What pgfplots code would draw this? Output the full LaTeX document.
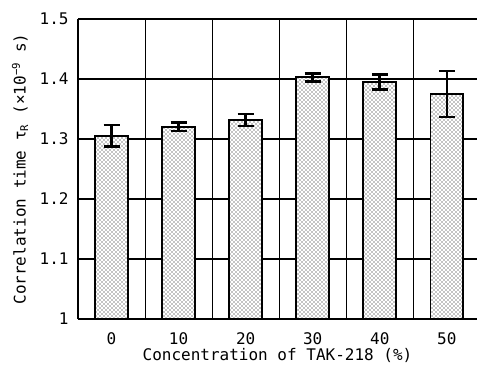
\documentclass[border=0pt]{standalone}
\usepackage{fontspec}
\setmainfont{DejaVu Sans Mono}
\usepackage{pgfplots}
\pgfplotsset{compat=1.18}
\usetikzlibrary{patterns}
\begin{document}
\begin{tikzpicture}
\useasboundingbox (-58.5pt,-36.75pt) rectangle (299.25pt,239.25pt);
\begin{axis}[
  at={(0pt,0pt)}, anchor=south west,
  scale only axis, width=299.25pt, height=225pt,
  xmin=-0.5, xmax=5.45, ymin=1, ymax=1.5,
  axis lines*=left,
  axis line style={line width=1.1pt},
  font=\fontsize{12}{14}\selectfont,
  /pgf/number format/assume math mode=true,
  ytick={1,1.1,1.2,1.3,1.4,1.5},
  yticklabels={1,1.1,1.2,1.3,1.4,1.5},
  yticklabel style={xshift=-3.5pt},
  ymajorgrids, grid style={black, line width=0.8pt},
  major y tick style={draw=none},
  xtick={0,1,2,3,4,5},
  xticklabels={0,10,20,30,40,50},
  major x tick style={draw=none},
  extra x ticks={0.5,1.5,2.5,3.5,4.5},
  extra x tick labels={},
  extra x tick style={xmajorgrids=true, major tick length=0pt},
  xticklabel style={yshift=-7pt},
  ylabel={Correlation time τ\textsubscript{R} (×10\textsuperscript{−9} s)},
  xlabel={Concentration of TAK-218 (\%)},
  ylabel style={at={(axis description cs:-0.1454,0.5)}, anchor=center},
  xlabel style={at={(axis description cs:0.5,-0.122)}, anchor=center},
  clip=false,
]
\addplot[ybar, bar width=0.49, draw=black, line width=1.3pt,
  fill=white, postaction={pattern=crosshatch dots, pattern color=black},
  error bars/.cd, y dir=both, y explicit,
  error bar style={line width=2pt, black},
  error mark options={line width=2pt, mark size=6pt, rotate=90}]
coordinates {
(0,1.3055) +- (0,0.018)
(1,1.3205) +- (0,0.007)
(2,1.3317) +- (0,0.010)
(3,1.4030) +- (0,0.0067)
(4,1.3945) +- (0,0.0125)
(5,1.3750) +- (0,0.0385)
};
\end{axis}
\end{tikzpicture}
\end{document}
